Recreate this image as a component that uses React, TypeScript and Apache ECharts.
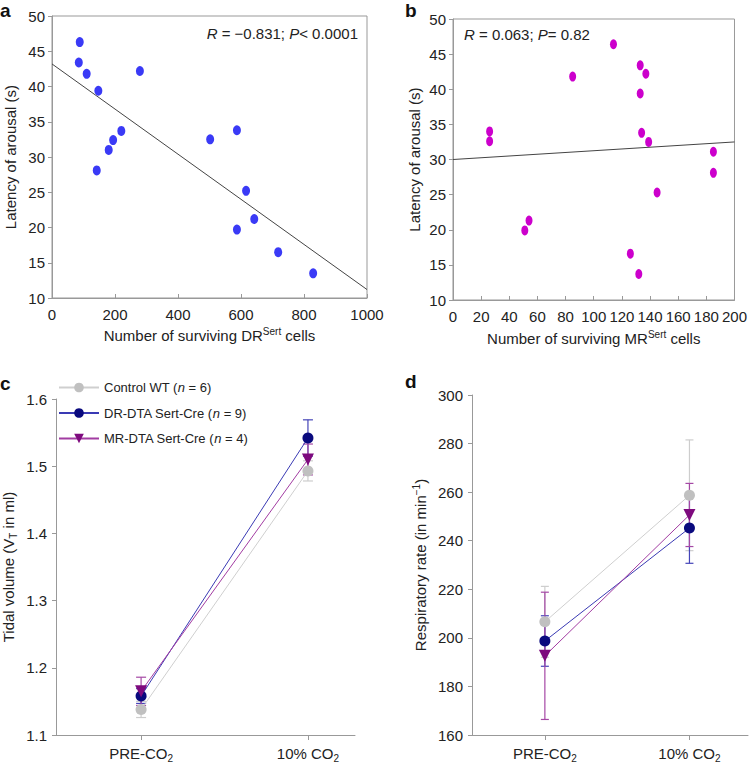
import React, { useEffect, useRef } from "react";
import * as echarts from "echarts";

// Panel a: DR scatter
const aX = [88, 85, 110, 147, 279, 220, 194, 180, 142, 502, 587, 616, 642, 587, 718, 829];
const aY = [46.3, 43.4, 41.8, 39.4, 42.2, 33.7, 32.4, 31.0, 28.1, 32.5, 33.8, 25.2, 21.2, 19.7, 16.5, 13.5];
const aFit = [[0, 43.2], [1000, 11.2]];
// Panel b: MR scatter
const bX = [26, 26, 85, 114, 133, 137, 133, 134, 139, 185, 185, 145, 54, 51, 126, 132];
const bY = [34.0, 32.6, 41.8, 46.4, 43.4, 42.2, 39.4, 33.8, 32.5, 31.1, 28.1, 25.3, 21.3, 19.9, 16.6, 13.7];
const bFit = [[0, 30.0], [200, 32.5]];

// Panels c / d
const conditions = ["PRE-CO{s|2}", "10% CO{s|2}"];
const groupNames = ["Control WT (n = 6)", "DR-DTA Sert-Cre (n = 9)", "MR-DTA Sert-Cre (n = 4)"];
const tidalMean = [
  [1.138, 1.493],
  [1.158, 1.542],
  [1.165, 1.51],
];
const tidalErr = [
  [0.012, 0.015],
  [0.011, 0.027],
  [0.021, 0.023],
];
const rateMean = [
  [206.6, 258.7],
  [198.7, 245.2],
  [192.6, 250.6],
];
const rateErr = [
  [14.6, 22.8],
  [10.4, 14.5],
  [26.2, 13.0],
];

const lineColors = ["#cfcfcf", "#3a3ab4", "#a23ca2"];
const markColors = ["#c0c0c0", "#0a0a7e", "#7e0a7e"];
const errColors = ["#cdcdcd", "#4545b8", "#a548a5"];
const symbols = ["circle", "circle", "triangle"];
const rotations = [0, 0, 180];

const FONT = "Liberation Sans";
const FS = 15;
const supRich = {
  sup: { fontSize: 10, fontFamily: FONT, color: "#222", verticalAlign: "bottom", padding: [0, 0, 9, 0] },
  s: { fontSize: 10, fontFamily: FONT, color: "#222", verticalAlign: "top", padding: [9, 0, 0, 0] },
};

export default function App() {
  const ref = useRef<HTMLDivElement>(null);
  useEffect(() => {
    if (!ref.current) return;
    const chart = echarts.init(ref.current, undefined, { renderer: "svg" });

    const axisLabel = { color: "#222", fontSize: FS, fontFamily: FONT };
    const axisLine = { lineStyle: { color: "#999" } };
    const nameStyle = { color: "#222", fontSize: FS, fontFamily: FONT, rich: supRich };

    const scatterX = (gi: number, max: number, interval: number, name: string, gap: number) => ({
      type: "value",
      gridIndex: gi,
      min: 0,
      max,
      interval,
      name,
      nameLocation: "middle",
      nameGap: gap,
      nameTextStyle: nameStyle,
      axisLine: { ...axisLine, onZero: false },
      axisTick: { show: true, inside: true, length: 4, lineStyle: { color: "#999" } },
      axisLabel: { ...axisLabel, margin: 9, formatter: (v: number) => String(v) },
      splitLine: { show: false },
    });
    const scatterY = (gi: number, gap: number) => ({
      type: "value",
      gridIndex: gi,
      min: 10,
      max: 50,
      interval: 5,
      name: "Latency of arousal (s)",
      nameLocation: "middle",
      nameGap: gap,
      nameTextStyle: nameStyle,
      axisLine: { show: true, onZero: false, ...axisLine },
      axisTick: { show: true, length: 4, lineStyle: { color: "#999" } },
      axisLabel: { ...axisLabel, margin: 7 },
      splitLine: { show: false },
    });
    const condX = (gi: number, min: number, max: number) => ({
      type: "value",
      gridIndex: gi,
      min,
      max,
      axisLine: { ...axisLine, onZero: false },
      axisTick: { show: true, length: 5, customValues: [0, 1], lineStyle: { color: "#999" } },
      axisLabel: {
        ...axisLabel,
        margin: 9,
        customValues: [0, 1],
        formatter: (v: number) => conditions[Math.round(v)],
        rich: { s: { fontSize: 10, fontFamily: FONT, color: "#222", verticalAlign: "top", padding: [9, 0, 0, 0] } },
      },
      splitLine: { show: false },
    });

    const errSeries = (xi: number, means: number[][], errs: number[][], cap: number) =>
      means.map((m, g) => ({
        type: "custom",
        name: "err" + xi + "-" + g,
        xAxisIndex: xi,
        yAxisIndex: xi,
        z: 1,
        silent: true,
        encode: { x: 0, y: 1 },
        data: m.map((v, i) => [i, v, errs[g][i]]),
        renderItem: (params: any, api: any) => {
          const x = api.value(0);
          const y = api.value(1);
          const e = api.value(2);
          const t = api.coord([x, y + e]);
          const b = api.coord([x, y - e]);
          const st = { stroke: errColors[g], lineWidth: 1.2 };
          return {
            type: "group",
            children: [
              { type: "line", shape: { x1: t[0], y1: t[1], x2: b[0], y2: b[1] }, style: st },
              { type: "line", shape: { x1: t[0] - cap, y1: t[1], x2: t[0] + cap, y2: t[1] }, style: st },
              { type: "line", shape: { x1: b[0] - cap, y1: b[1], x2: b[0] + cap, y2: b[1] }, style: st },
            ],
          };
        },
      }));
    const lineSeries = (xi: number, means: number[][]) =>
      means.map((m, g) => ({
        type: "line",
        name: groupNames[g],
        xAxisIndex: xi,
        yAxisIndex: xi,
        z: 3 + g,
        data: m.map((v, i) => [i, v]),
        symbol: symbols[g],
        symbolSize: g === 2 ? 12 : 11,
        symbolRotate: rotations[g],
        showSymbol: true,
        itemStyle: { color: markColors[g] },
        lineStyle: { color: lineColors[g], width: 1 },
      }));

    const legendFmt = (name: string) => {
      const idx = name.indexOf("(n");
      return "{a|" + name.slice(0, idx + 1) + "}{i|n}{a|" + name.slice(idx + 2) + "}";
    };

    const yLineC = { show: true, onZero: false, ...axisLine };

    chart.setOption({
      animation: false,
      backgroundColor: "#fff",
      textStyle: { fontFamily: FONT },
      grid: [
        { left: 52, top: 16, width: 315, height: 282, show: true, borderColor: "#999", borderWidth: 1 },
        { left: 453, top: 19, width: 285, height: 281, show: true, borderColor: "#999", borderWidth: 1 },
        { left: 52, top: 399, width: 303, height: 338 },
        { left: 472, top: 395, width: 276, height: 342 },
      ],
      xAxis: [
        scatterX(0, 1000, 200, "Number of surviving DR{sup|Sert} cells", 28),
        scatterX(1, 200, 20, "Number of surviving MR{sup|Sert} cells", 29),
        condX(2, -0.51, 1.282),
        condX(3, -0.504, 1.405),
      ],
      yAxis: [
        scatterY(0, 34),
        scatterY(1, 31),
        {
          type: "value",
          gridIndex: 2,
          min: 1.1,
          max: 1.6,
          interval: 0.1,
          name: "Tidal volume (V{s|T} in ml)",
          nameLocation: "middle",
          nameGap: 38,
          nameTextStyle: nameStyle,
          axisLine: yLineC,
          axisTick: { show: true, length: 4, lineStyle: { color: "#999" } },
          axisLabel: { ...axisLabel, margin: 9, formatter: (v: number) => v.toFixed(1) },
          splitLine: { show: false },
        },
        {
          type: "value",
          gridIndex: 3,
          min: 160,
          max: 300,
          interval: 20,
          name: "Respiratory rate (in min{sup|−1})",
          nameLocation: "middle",
          nameGap: 42,
          nameTextStyle: nameStyle,
          axisLine: yLineC,
          axisTick: { show: true, length: 4, lineStyle: { color: "#999" } },
          axisLabel: { ...axisLabel, margin: 9 },
          splitLine: { show: false },
        },
      ],
      legend: {
        data: groupNames,
        orient: "vertical",
        left: 53,
        top: 376,
        itemWidth: 40,
        itemHeight: 12,
        itemGap: 12.5,
        formatter: legendFmt,
        textStyle: {
          color: "#222",
          fontSize: 13,
          fontFamily: FONT,
          rich: {
            a: { fontSize: 13, fontFamily: FONT, color: "#222" },
            i: { fontSize: 13, fontFamily: FONT, color: "#222", fontStyle: "italic" },
          },
        },
        selectedMode: false,
      },
      graphic: [
        { type: "text", x: 0, y: 1, style: { text: "a", font: "bold 19px " + FONT, fill: "#111" } },
        { type: "text", x: 405, y: 1, style: { text: "b", font: "bold 19px " + FONT, fill: "#111" } },
        { type: "text", x: 0, y: 374, style: { text: "c", font: "bold 19px " + FONT, fill: "#111" } },
        { type: "text", x: 405, y: 372, style: { text: "d", font: "bold 19px " + FONT, fill: "#111" } },
        {
          type: "text",
          x: 358,
          y: 33,
          style: {
            text: "{i|R} = −0.831; {i|P}< 0.0001",
            align: "right",
            verticalAlign: "middle",
            font: FS + "px " + FONT,
            fill: "#222",
            rich: { i: { fontStyle: "italic", fontSize: FS, fontFamily: FONT, fill: "#222" } },
          },
        },
        {
          type: "text",
          x: 464,
          y: 34,
          style: {
            text: "{i|R} = 0.063; {i|P}= 0.82",
            align: "left",
            verticalAlign: "middle",
            font: FS + "px " + FONT,
            fill: "#222",
            rich: { i: { fontStyle: "italic", fontSize: FS, fontFamily: FONT, fill: "#222" } },
          },
        },
      ],
      series: [
        {
          type: "scatter",
          xAxisIndex: 0,
          yAxisIndex: 0,
          symbolSize: [8, 10],
          itemStyle: { color: "#3a3af6", opacity: 1 },
          data: aX.map((x, i) => [x, aY[i]]),
          z: 3,
        },
        {
          type: "line",
          xAxisIndex: 0,
          yAxisIndex: 0,
          data: aFit,
          symbol: "none",
          lineStyle: { color: "#444", width: 1 },
          z: 2,
        },
        {
          type: "scatter",
          xAxisIndex: 1,
          yAxisIndex: 1,
          symbolSize: [7, 10],
          itemStyle: { color: "#cc00cc", opacity: 1 },
          data: bX.map((x, i) => [x, bY[i]]),
          z: 3,
        },
        {
          type: "line",
          xAxisIndex: 1,
          yAxisIndex: 1,
          data: bFit,
          symbol: "none",
          lineStyle: { color: "#444", width: 1 },
          z: 2,
        },
        ...errSeries(2, tidalMean, tidalErr, 5),
        ...lineSeries(2, tidalMean),
        ...errSeries(3, rateMean, rateErr, 4),
        ...lineSeries(3, rateMean),
      ],
    });
    return () => chart.dispose();
  }, []);
  return <div ref={ref} style={{ position: "fixed", left: 0, top: 0, width: 750, height: 763 }} />;
}
